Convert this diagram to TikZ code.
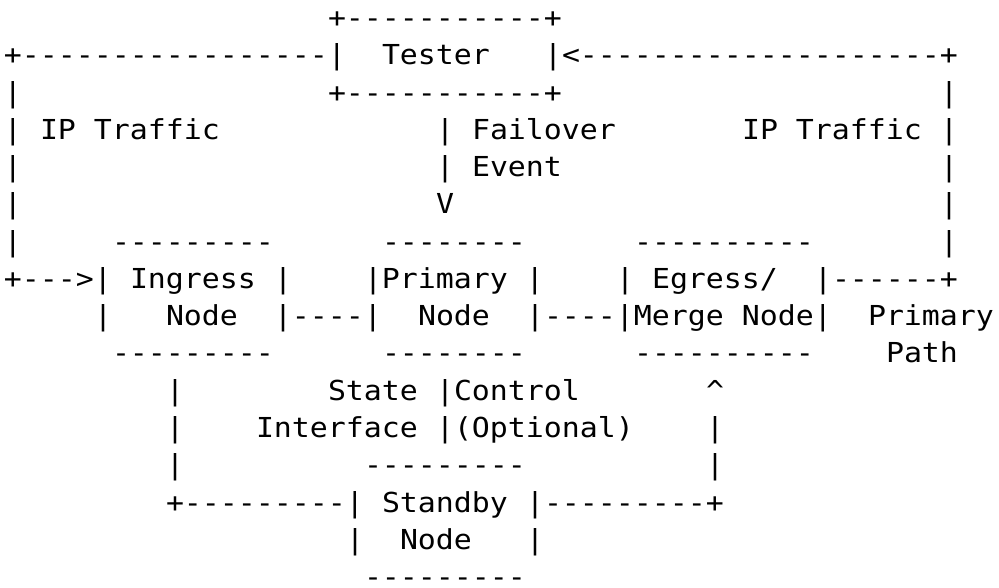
\documentclass[tikz,border=0pt]{standalone}
\usepackage{fontspec}
\setmonofont{DejaVu Sans Mono}[FakeStretch=1.087]
\tikzset{asc/.style={font=\ttfamily\fontsize{27.5}{37}\selectfont, anchor=base west, inner sep=0pt, outer sep=0pt, text=black}}
\newcommand\asciitxt[4]{\node[asc] (#1) at ({4pt+18pt*#2},{559.25pt-37.25pt*(#3-1)}) {#4};}
\begin{document}
\begin{tikzpicture}
\useasboundingbox[fill=white] (0pt,0pt) rectangle (999pt,587pt);
% row 1-3: tester box
\asciitxt{t1}{18}{1}{+-----------+}
\asciitxt{t2a}{0}{2}{+-----------------|}
\asciitxt{tester}{21}{2}{Tester}
\asciitxt{t2b}{30}{2}{|<--------------------+}
\asciitxt{l3}{0}{3}{|}
\asciitxt{t3}{18}{3}{+-----------+}
\asciitxt{r3}{52}{3}{|}
% rows 4-6
\asciitxt{l4}{0}{4}{|}
\asciitxt{iptl}{2}{4}{IP Traffic}
\asciitxt{f4}{24}{4}{|}
\asciitxt{failover}{26}{4}{Failover}
\asciitxt{iptr}{41}{4}{IP Traffic}
\asciitxt{r4}{52}{4}{|}
\asciitxt{l5}{0}{5}{|}
\asciitxt{f5}{24}{5}{|}
\asciitxt{event}{26}{5}{Event}
\asciitxt{r5}{52}{5}{|}
\asciitxt{l6}{0}{6}{|}
\asciitxt{v6}{24}{6}{V}
\asciitxt{r6}{52}{6}{|}
% row 7: box tops
\asciitxt{l7}{0}{7}{|}
\asciitxt{ingtop}{6}{7}{---------}
\asciitxt{pritop}{21}{7}{--------}
\asciitxt{egrtop}{35}{7}{----------}
\asciitxt{r7}{52}{7}{|}
% row 8
\asciitxt{a8}{0}{8}{+--->|}
\asciitxt{ingress}{7}{8}{Ingress}
\asciitxt{b8}{15}{8}{|}
\asciitxt{c8}{20}{8}{|Primary |}
\asciitxt{d8}{34}{8}{|}
\asciitxt{egress}{36}{8}{Egress/}
\asciitxt{e8}{45}{8}{|------+}
% row 9
\asciitxt{a9}{5}{9}{|}
\asciitxt{ingnode}{9}{9}{Node}
\asciitxt{b9}{15}{9}{|----|}
\asciitxt{prinode}{23}{9}{Node}
\asciitxt{c9}{29}{9}{|----|Merge Node|}
\asciitxt{primary}{48}{9}{Primary}
% row 10: box bottoms
\asciitxt{ingbot}{6}{10}{---------}
\asciitxt{pribot}{21}{10}{--------}
\asciitxt{egrbot}{35}{10}{----------}
\asciitxt{path}{49}{10}{Path}
% rows 11-13
\asciitxt{a11}{9}{11}{|}
\asciitxt{state}{18}{11}{State}
\asciitxt{b11}{24}{11}{|Control}
\asciitxt{c11}{39}{11}{\textasciicircum}
\asciitxt{a12}{9}{12}{|}
\asciitxt{interface}{14}{12}{Interface}
\asciitxt{b12}{24}{12}{|(Optional)}
\asciitxt{c12}{39}{12}{|}
\asciitxt{a13}{9}{13}{|}
\asciitxt{stbtop}{20}{13}{---------}
\asciitxt{c13}{39}{13}{|}
% rows 14-16: standby
\asciitxt{a14}{9}{14}{+---------|}
\asciitxt{standby}{21}{14}{Standby}
\asciitxt{b14}{29}{14}{|---------+}
\asciitxt{a15}{19}{15}{|}
\asciitxt{stbnode}{22}{15}{Node}
\asciitxt{b15}{29}{15}{|}
\asciitxt{stbbot}{20}{16}{---------}
\end{tikzpicture}
\end{document}
